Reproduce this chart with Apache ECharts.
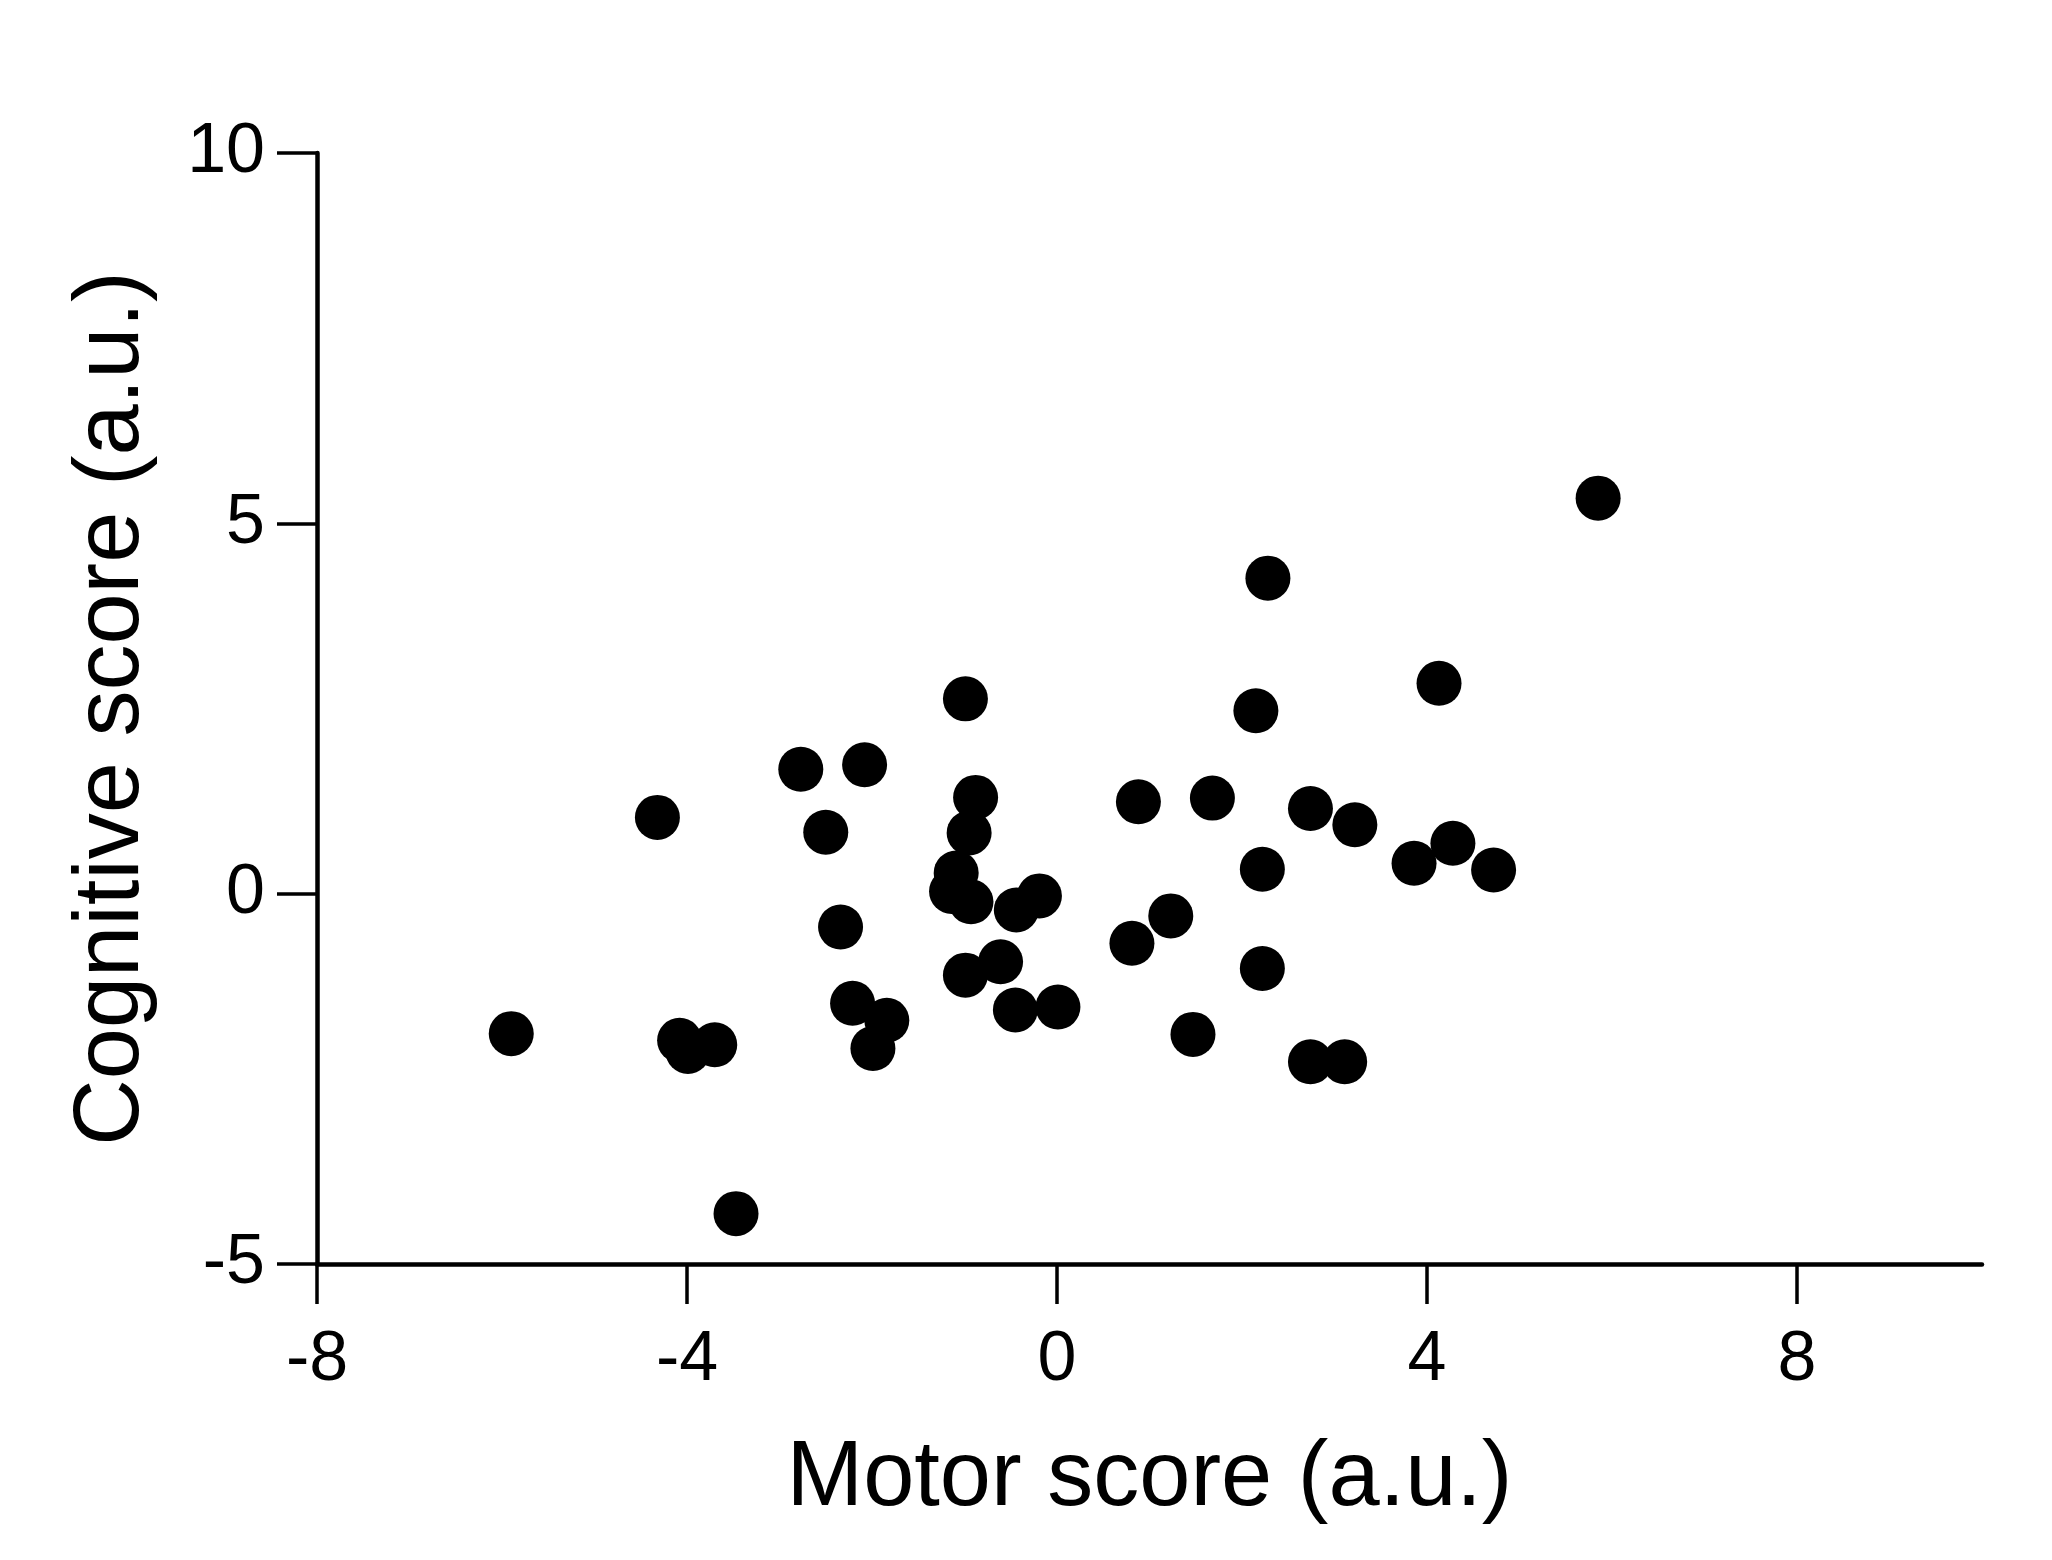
<!DOCTYPE html>
<html>
<head>
<meta charset="utf-8">
<script src="https://cdn.jsdelivr.net/npm/echarts@6/dist/echarts.min.js"></script>
<style>
html,body{margin:0;padding:0;background:#fff;}
#chart{width:2052px;height:1560px;}
</style>
</head>
<body>
<div id="chart"></div>
<script>
// Motor score (x) values
var motorScores = [
  -5.90, -4.32, -4.08, -3.99, -3.70, -3.47, -2.77, -2.08, -2.50, -2.34,
  -2.21, -1.84, -1.99, -0.99, -0.88, -0.95, -1.09, -1.14, -0.93, -0.19,
  -0.44, -0.61, -0.99, -0.45, 0.01, 0.88, 1.68, 2.15, 2.74, 3.22,
  2.22, 1.23, 0.81, 2.22, 1.47, 2.74, 3.11, 4.13, 3.86, 4.28,
  4.72, 5.85, 2.28
];
// Cognitive score (y) values
var cognitiveScores = [
  -1.89, 1.03, -1.98, -2.13, -2.04, -4.32, 1.68, 1.74, 0.83, -0.45,
  -1.48, -1.71, -2.09, 2.63, 1.30, 0.82, 0.28, 0.03, -0.11, -0.03,
  -0.22, -0.92, -1.10, -1.57, -1.53, 1.24, 1.29, 2.47, 1.15, 0.93,
  0.33, -0.30, -0.67, -1.01, -1.90, -2.27, -2.27, 2.84, 0.41, 0.68,
  0.32, 5.34, 4.26
];
var xTicks = [-8, -4, 0, 4, 8];
var yTicks = [-5, 0, 5, 10];
var xTitle = 'Motor score (a.u.)';
var yTitle = 'Cognitive score (a.u.)';

var points = motorScores.map(function (x, i) { return [x, cognitiveScores[i]]; });

var font = 'Liberation Sans';
var chart = echarts.init(document.getElementById('chart'), null, {renderer: 'canvas'});
chart.setOption({
  animation: false,
  backgroundColor: '#ffffff',
  grid: {left: 317, right: 70, top: 153, bottom: 296, containLabel: false},
  xAxis: {
    type: 'value', min: -8, max: 10, interval: 4,
    name: xTitle, nameLocation: 'middle', nameGap: 170,
    nameTextStyle: {fontFamily: font, fontSize: 92, color: '#000'},
    axisLine: {show: true, onZero: false, lineStyle: {color: '#000', width: 4.5}},
    axisTick: {show: true, length: 40, lineStyle: {color: '#000', width: 3.5}, customValues: xTicks},
    axisLabel: {fontFamily: font, fontSize: 70, color: '#000', margin: 62, customValues: xTicks},
    splitLine: {show: false}
  },
  yAxis: {
    type: 'value', min: -5, max: 10, interval: 5,
    name: yTitle, nameLocation: 'middle', nameGap: 158, nameRotate: 90,
    nameTextStyle: {fontFamily: font, fontSize: 92, color: '#000'},
    axisLine: {show: true, onZero: false, lineStyle: {color: '#000', width: 4.5}},
    axisTick: {show: true, length: 40, lineStyle: {color: '#000', width: 3.5}, customValues: yTicks},
    axisLabel: {fontFamily: font, fontSize: 70, color: '#000', margin: 52, customValues: yTicks},
    splitLine: {show: false}
  },
  series: [{
    type: 'scatter',
    data: points,
    symbol: 'circle',
    symbolSize: 45,
    itemStyle: {color: '#000', opacity: 1},
    emphasis: {disabled: true}
  }]
});
</script>
</body>
</html>
